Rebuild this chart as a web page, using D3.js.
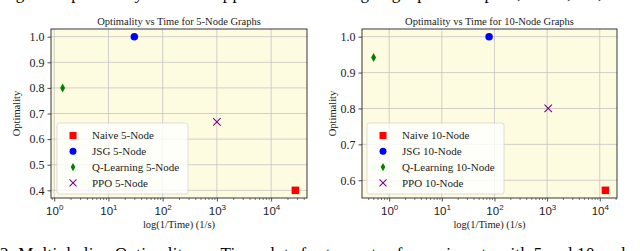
<!DOCTYPE html>
<html>
<head>
<meta charset="utf-8">
<script src="https://cdn.jsdelivr.net/npm/d3@7"></script>
<style>
  body { margin: 0; background: #fff; }
  svg { display: block; font-family: "Liberation Serif", "DejaVu Serif", serif; }
</style>
</head>
<body>
<div id="chart"></div>
<script>
// data
const methods = ["Naive", "JSG", "Q-Learning", "PPO"];
const colors = ["red", "blue", "green", "purple"];
const symbols = ["square", "circle", "diamond", "cross"];

const rate5 = [28000, 30, 1.43, 1000];
const opt5 = [0.40, 1.00, 0.80, 0.667];
const rate10 = [12800, 79, 0.506, 1050];
const opt10 = [0.572, 1.00, 0.942, 0.80];

const xTicks = [1, 10, 100, 1000, 10000];
const yTicks5 = [0.4, 0.5, 0.6, 0.7, 0.8, 0.9, 1.0];
const yTicks10 = [0.6, 0.7, 0.8, 0.9, 1.0];

const W = 640, H = 251;

const svg = d3.select("#chart").append("svg")
  .attr("width", W).attr("height", H)
  .attr("viewBox", [0, 0, W, H]);

// bits of the surrounding paper text, cut by the crop
svg.append("text")
  .attr("x", 0).attr("y", -1)
  .attr("font-size", 17)
  .attr("textLength", 636)
  .text("ing the optimality of each approach on the right graph examples, for 5, 10, and");

svg.append("text")
  .attr("x", 0).attr("y", 259)
  .attr("font-size", 17)
  .attr("textLength", 640)
  .text("2: Multiple line Optimality vs. Time plots for two sets of experiments with 5 and 10 nodes");

// matplotlib style 5% margins
function pad(lo, hi) {
  const m = (hi - lo) * 0.05;
  return [lo - m, hi + m];
}

function panel(opts) {
  const { left, right, top, bottom, rates, opts: vals, yTicks, n, ylabelX } = opts;
  const lx = pad(Math.log10(d3.min(rates)), Math.log10(d3.max(rates)));
  const ly = pad(d3.min(vals), d3.max(vals));

  const x = d3.scaleLog().domain([10 ** lx[0], 10 ** lx[1]]).range([left, right]);
  const y = d3.scaleLinear().domain(ly).range([bottom, top]);

  const g = svg.append("g");

  g.append("rect")
    .attr("x", left).attr("y", top)
    .attr("width", right - left).attr("height", bottom - top)
    .attr("fill", "#fefce0");

  // grid
  g.append("g").selectAll("line").data(xTicks.filter(t => x(t) >= left && x(t) <= right))
    .join("line")
      .attr("x1", d => x(d)).attr("x2", d => x(d))
      .attr("y1", top).attr("y2", bottom)
      .attr("stroke", "#c4c4c4").attr("stroke-width", 0.8);
  g.append("g").selectAll("line").data(yTicks)
    .join("line")
      .attr("x1", left).attr("x2", right)
      .attr("y1", d => y(d)).attr("y2", d => y(d))
      .attr("stroke", "#c4c4c4").attr("stroke-width", 0.8);

  // minor x ticks
  const minor = [];
  for (let e = -1; e <= 5; e++) for (let k = 2; k <= 9; k++) minor.push(k * 10 ** e);
  g.append("g")
    .attr("transform", `translate(0,${bottom})`)
    .call(d3.axisBottom(x).tickValues(minor.filter(t => x(t) >= left && x(t) <= right))
      .tickFormat("").tickSize(2).tickSizeOuter(0))
    .call(a => a.select(".domain").remove())
    .call(a => a.selectAll("line").attr("stroke", "#222").attr("stroke-width", 0.6));

  // major x axis
  g.append("g")
    .attr("transform", `translate(0,${bottom})`)
    .call(d3.axisBottom(x).tickValues(xTicks).tickFormat("").tickSize(3.5).tickSizeOuter(0))
    .call(a => a.select(".domain").remove())
    .call(a => a.selectAll("line").attr("stroke", "#222").attr("stroke-width", 0.8))
    .call(a => a.selectAll(".tick").append("text")
      .attr("y", 17).attr("text-anchor", "middle")
      .attr("fill", "#222").attr("font-size", 11.5)
      .each(function(d) {
        const t = d3.select(this);
        t.append("tspan").text("10");
        t.append("tspan").attr("dy", -5).attr("font-size", 8).text(Math.round(Math.log10(d)));
      }));

  // y axis
  g.append("g")
    .attr("transform", `translate(${left},0)`)
    .call(d3.axisLeft(y).tickValues(yTicks).tickFormat(d3.format(".1f")).tickSize(3.5).tickPadding(3))
    .call(a => a.select(".domain").remove())
    .call(a => a.selectAll("line").attr("stroke", "#222").attr("stroke-width", 0.8))
    .call(a => a.selectAll("text").attr("fill", "#222").attr("font-size", 12)
      .attr("font-family", "Liberation Serif"));

  // frame
  g.append("rect")
    .attr("x", left).attr("y", top)
    .attr("width", right - left).attr("height", bottom - top)
    .attr("fill", "none").attr("stroke", "#222").attr("stroke-width", 0.9);

  // points
  const pts = methods.map((m, i) => ({ m, i, r: rates[i], v: vals[i] }));
  const marker = (sel, size) => sel.each(function(d) {
    const s = d3.select(this);
    if (symbols[d.i] === "square") {
      s.append("rect").attr("x", -size / 2).attr("y", -size / 2)
        .attr("width", size).attr("height", size).attr("fill", colors[d.i]);
    } else if (symbols[d.i] === "circle") {
      s.append("circle").attr("r", size / 2).attr("fill", colors[d.i]);
    } else if (symbols[d.i] === "diamond") {
      s.append("path").attr("d", `M0,${-size * 0.6}L${size * 0.33},0L0,${size * 0.6}L${-size * 0.33},0Z`)
        .attr("fill", colors[d.i]);
    } else {
      const h = size / 2;
      s.append("path").attr("d", `M${-h},${-h}L${h},${h}M${-h},${h}L${h},${-h}`)
        .attr("stroke", colors[d.i]).attr("stroke-width", 1.1).attr("fill", "none");
    }
  });

  g.append("g").selectAll("g").data(pts).join("g")
    .attr("transform", d => `translate(${x(d.r)},${y(d.v)})`)
    .call(marker, 7.5);

  // legend
  const lg = opts.legend;
  g.append("rect")
    .attr("x", lg.x).attr("y", lg.y)
    .attr("width", lg.w).attr("height", lg.h)
    .attr("rx", 2.5)
    .attr("fill", "white").attr("fill-opacity", 0.8)
    .attr("stroke", "#d4d4d4").attr("stroke-width", 0.8);

  const rows = g.append("g").selectAll("g").data(pts).join("g")
    .attr("transform", (d, i) => `translate(${lg.x},${lg.y + 12.5 + i * 15.8})`);
  rows.append("g").attr("transform", `translate(${lg.mx},0)`).call(marker, 7);
  rows.append("text")
    .attr("x", lg.tx).attr("dy", "0.35em")
    .attr("font-size", 11).attr("fill", "#222")
    .text(d => `${d.m} ${n}-Node`);

  // labels
  g.append("text")
    .attr("x", (left + right) / 2).attr("y", top - 4)
    .attr("text-anchor", "middle").attr("font-size", 10.5).attr("fill", "#222")
    .text(`Optimality vs Time for ${n}-Node Graphs`);

  g.append("text")
    .attr("x", (left + right) / 2).attr("y", 228)
    .attr("text-anchor", "middle").attr("font-size", 10.5).attr("fill", "#222")
    .text("log(1/Time) (1/s)");

  g.append("text")
    .attr("transform", `translate(${ylabelX},${(top + bottom) / 2}) rotate(-90)`)
    .attr("text-anchor", "middle").attr("font-size", 10.5).attr("fill", "#222")
    .text("Optimality");
}

panel({
  left: 51, right: 307, top: 29, bottom: 198,
  rates: rate5, opts: opt5, yTicks: yTicks5, n: 5, ylabelX: 20,
  legend: { x: 57, y: 123, w: 131, h: 71, mx: 16, tx: 35 }
});

panel({
  left: 362, right: 617, top: 29, bottom: 198,
  rates: rate10, opts: opt10, yTicks: yTicks10, n: 10, ylabelX: 336,
  legend: { x: 367, y: 123, w: 137, h: 71, mx: 16, tx: 35 }
});
</script>
</body>
</html>
